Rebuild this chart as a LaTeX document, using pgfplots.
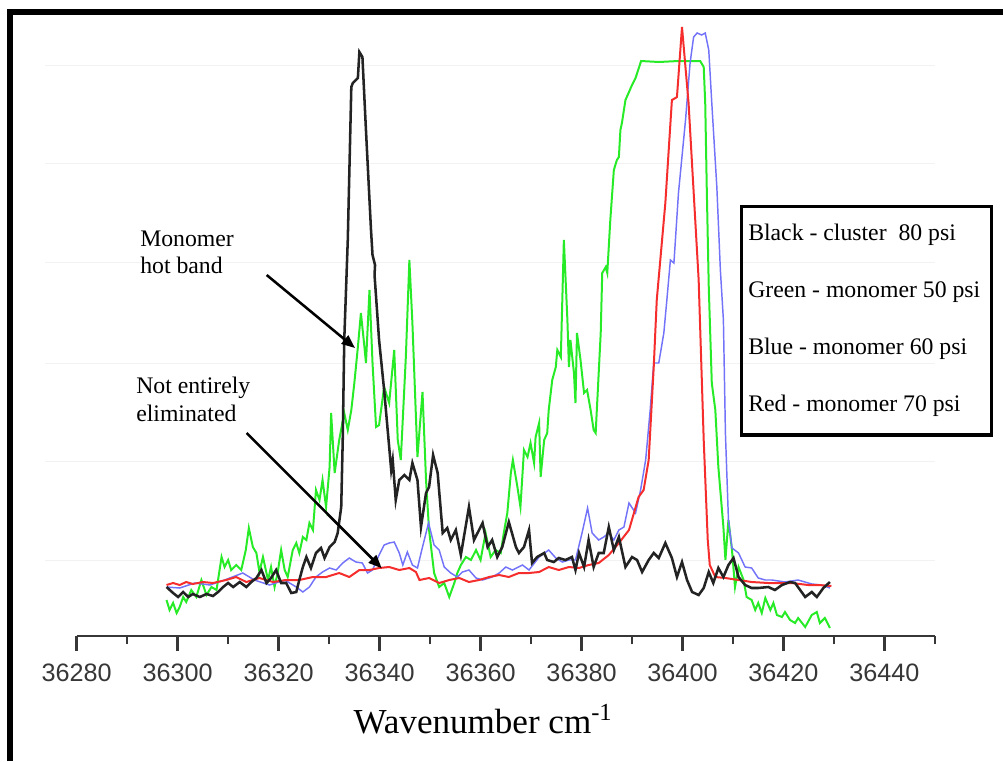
\documentclass[border=0pt]{standalone}
\usepackage{fontspec}
\setmainfont{Liberation Serif}
\newfontfamily\arial{Liberation Sans}
\usepackage{pgfplots}
\pgfplotsset{compat=1.18}
\usetikzlibrary{arrows.meta}
\definecolor{axcol}{RGB}{55,55,55}
\definecolor{cblack}{RGB}{35,35,35}
\definecolor{cgreen}{RGB}{40,235,40}
\definecolor{cblue}{RGB}{115,115,250}
\definecolor{cred}{RGB}{245,45,45}
\definecolor{gridc}{RGB}{242,242,242}
\newcommand{\txt}{\fontsize{17.8}{20}\selectfont}
\begin{document}
\begin{tikzpicture}
\path (0,0) rectangle (752.25pt,-570.75pt);
\begin{axis}[
  at={(57.5pt,-477pt)}, anchor=south west,
  scale only axis, width=643.7pt, height=465.75pt,
  xmin=36280, xmax=36450, ymin=-0.76, ymax=5.45,
  axis x line*=bottom, axis y line=none,
  x axis line style={draw=axcol, line width=2pt, -},
  xtick={36280,36300,...,36440},
  minor xtick={36290,36310,...,36450},
  scaled x ticks=false,
  tick align=outside,
  major tick length=11.25pt, minor tick length=6.25pt,
  xtick style={draw=axcol, line width=2pt},
  xticklabel style={font=\arial\fontsize{18.9}{20}\selectfont, text=axcol, yshift=-6.5pt,
    /pgf/number format/.cd, fixed, precision=0, 1000 sep={}},
  /pgf/number format/assume math mode=true,
  ytick=\empty,
  clip=false,
]
\pgfplotsinvokeforeach{0,0.99,1.97,2.98,3.97,4.95}{\draw[gridc, line width=0.75pt] (axis cs:36273.7,#1) -- (axis cs:36450,#1);}
% green 50 psi
\addplot[cgreen, line width=1.5pt] table {
36297.8 -0.40
36298.4 -0.50
36299.1 -0.43
36299.8 -0.53
36300.4 -0.47
36301.1 -0.37
36301.7 -0.42
36302.7 -0.30
36303.7 -0.37
36304.7 -0.20
36305.7 -0.35
36306.7 -0.27
36307.7 -0.30
36308.7 0.03
36309.3 -0.07
36310.0 0.00
36310.6 -0.10
36311.6 -0.05
36312.6 -0.10
36313.5 0.10
36314.1 0.32
36314.9 0.13
36315.6 0.07
36316.2 -0.12
36316.9 0.03
36317.9 -0.20
36318.5 -0.07
36319.2 -0.27
36319.8 -0.13
36320.5 0.10
36321.2 -0.10
36321.8 -0.17
36322.8 0.10
36323.5 0.17
36324.1 0.07
36324.8 0.23
36325.5 0.20
36326.1 0.37
36326.8 0.30
36327.4 0.70
36328.1 0.60
36328.7 0.80
36329.4 0.53
36330.1 0.93
36330.4 1.47
36331.1 0.87
36332.0 1.20
36333.0 1.47
36333.7 1.30
36334.4 1.50
36335.0 1.77
36335.7 2.13
36336.3 2.47
36337.0 2.13
36337.3 1.97
36338.0 2.70
36338.6 1.97
36339.3 1.33
36339.9 1.35
36340.9 1.73
36341.9 1.57
36342.9 2.10
36343.6 1.20
36344.2 1.00
36345.2 2.03
36345.9 3.00
36346.5 2.37
36347.5 1.03
36348.5 1.68
36349.2 0.80
36349.8 0.30
36350.8 -0.13
36351.8 -0.27
36352.8 -0.23
36353.8 -0.37
36354.8 -0.23
36355.4 -0.13
36356.1 -0.05
36357.1 0.03
36358.1 0.00
36359.1 0.10
36360.0 0.00
36361.0 0.27
36362.0 0.03
36363.0 0.10
36364.0 0.07
36364.6 0.27
36365.3 0.47
36366.0 0.87
36366.4 1.00
36367.3 0.73
36367.9 0.53
36368.6 1.10
36369.3 1.03
36369.9 1.17
36370.6 0.97
36370.9 1.23
36371.6 1.37
36371.9 0.83
36372.6 1.20
36373.2 1.27
36373.5 1.50
36374.2 1.80
36374.9 1.93
36375.2 2.10
36375.9 2.03
36376.5 3.20
36377.2 2.40
36377.5 1.93
36377.8 2.20
36378.5 1.87
36378.8 1.57
36379.1 2.27
36379.8 2.00
36380.5 1.67
36381.1 1.70
36381.8 1.50
36382.4 1.30
36382.8 1.27
36383.3 1.77
36383.8 2.27
36384.1 2.87
36384.8 2.93
36385.1 2.87
36385.7 3.40
36386.4 3.90
36387.0 4.00
36387.4 4.03
36387.7 4.30
36388.0 4.37
36388.7 4.60
36389.4 4.68
36390.0 4.75
36390.7 4.82
36391.8 4.99
36395.3 4.98
36399.2 4.99
36403.5 4.99
36404.2 4.93
36404.5 4.57
36404.8 3.73
36405.2 2.73
36405.8 1.77
36406.5 1.50
36407.1 0.93
36408.1 0.33
36408.5 0.00
36409.1 0.40
36409.8 0.10
36410.4 -0.27
36411.1 -0.07
36412.1 -0.20
36412.7 -0.37
36413.7 -0.40
36414.4 -0.50
36415.0 -0.43
36415.7 -0.53
36416.4 -0.38
36417.4 -0.50
36418.0 -0.43
36418.7 -0.55
36419.7 -0.57
36420.3 -0.52
36421.3 -0.60
36422.3 -0.63
36422.9 -0.58
36424.3 -0.67
36425.6 -0.55
36426.6 -0.52
36427.2 -0.63
36428.2 -0.58
36429.2 -0.68
};
% blue 60 psi
\addplot[cblue, line width=1.1pt] table {
36297.8 -0.27
36300.4 -0.28
36303.4 -0.23
36306.4 -0.25
36309.3 -0.20
36312.9 -0.13
36315.2 -0.20
36318.2 -0.25
36321.2 -0.20
36323.5 -0.27
36324.8 -0.32
36326.1 -0.27
36327.4 -0.17
36328.7 -0.12
36330.1 -0.08
36331.4 -0.10
36332.7 -0.03
36334.0 0.02
36335.3 -0.02
36336.6 -0.03
36337.6 -0.13
36338.6 -0.10
36339.9 0.05
36340.9 0.15
36341.9 0.17
36342.9 0.18
36343.9 0.07
36344.6 -0.05
36345.5 0.08
36346.5 -0.05
36347.5 -0.08
36348.5 0.13
36349.7 0.37
36350.8 0.15
36351.8 0.10
36352.8 -0.07
36354.1 -0.13
36355.4 -0.17
36356.4 -0.12
36357.7 -0.10
36359.1 -0.18
36360.4 -0.20
36362.3 -0.17
36363.7 -0.13
36365.0 -0.07
36366.3 -0.10
36368.3 -0.05
36369.6 -0.10
36371.6 0.03
36373.5 0.10
36374.9 0.02
36376.2 -0.02
36377.5 0.00
36378.8 0.00
36380.1 0.27
36381.2 0.52
36382.1 0.27
36383.4 0.20
36384.4 0.23
36385.4 0.27
36386.4 0.20
36387.4 0.30
36388.4 0.33
36389.4 0.57
36390.7 0.47
36391.7 0.70
36392.7 1.00
36393.6 1.50
36394.3 1.97
36395.3 1.97
36396.3 2.27
36396.9 2.60
36397.6 3.00
36398.3 2.97
36399.2 3.67
36400.6 4.40
36401.5 4.97
36402.2 5.23
36402.9 5.27
36403.8 5.25
36404.5 5.27
36405.2 5.10
36405.8 4.57
36406.8 3.73
36407.5 2.90
36408.1 2.40
36408.5 1.27
36409.1 0.40
36409.8 0.12
36411.1 0.07
36412.4 -0.07
36413.7 -0.08
36415.0 -0.18
36416.4 -0.20
36417.7 -0.20
36420.3 -0.22
36422.9 -0.20
36425.6 -0.24
36427.6 -0.25
36429.2 -0.28
};
% red 70 psi
\addplot[cred, line width=1.5pt] table {
36297.8 -0.25
36299.1 -0.23
36300.4 -0.25
36301.7 -0.22
36303.0 -0.24
36305.0 -0.22
36307.0 -0.23
36309.6 -0.20
36311.6 -0.17
36313.6 -0.22
36316.2 -0.18
36318.9 -0.22
36321.5 -0.20
36324.1 -0.20
36326.8 -0.17
36329.4 -0.17
36332.0 -0.13
36334.0 -0.17
36336.0 -0.10
36338.0 -0.10
36339.9 -0.08
36341.9 -0.07
36343.9 -0.10
36345.9 -0.08
36347.2 -0.12
36347.9 -0.20
36349.8 -0.18
36351.8 -0.23
36353.8 -0.20
36355.8 -0.18
36357.7 -0.22
36359.7 -0.20
36361.7 -0.17
36363.7 -0.15
36365.6 -0.17
36367.6 -0.13
36369.6 -0.13
36371.6 -0.12
36373.5 -0.07
36375.5 -0.10
36377.5 -0.07
36379.5 -0.08
36381.4 -0.05
36383.4 -0.03
36385.4 0.05
36387.4 0.17
36389.4 0.30
36391.3 0.63
36392.3 0.70
36393.3 1.00
36394.3 1.93
36394.9 2.60
36396.6 3.57
36397.9 4.60
36398.6 4.62
36398.9 4.63
36399.9 5.33
36401.2 4.57
36403.2 2.80
36404.2 1.20
36405.0 0.20
36405.4 -0.05
36406.5 -0.17
36408.5 -0.18
36411.1 -0.20
36413.7 -0.22
36417.0 -0.23
36421.6 -0.23
36424.9 -0.25
36426.9 -0.25
36429.5 -0.26
};
% black cluster 80 psi
\addplot[cblack, line width=1.9pt] table {
36297.8 -0.27
36299.1 -0.33
36300.1 -0.37
36301.1 -0.32
36302.1 -0.37
36303.0 -0.34
36304.4 -0.37
36305.7 -0.34
36307.0 -0.36
36308.0 -0.32
36309.0 -0.27
36310.0 -0.23
36311.0 -0.27
36312.3 -0.22
36313.6 -0.27
36314.6 -0.22
36315.6 -0.18
36316.6 -0.10
36317.6 -0.23
36318.5 -0.18
36319.5 -0.10
36320.5 -0.23
36321.5 -0.23
36322.5 -0.33
36323.5 -0.32
36324.1 -0.20
36324.8 -0.07
36325.5 0.03
36326.4 -0.08
36327.4 0.07
36328.4 0.12
36329.1 0.02
36330.1 0.13
36331.1 0.18
36331.7 0.27
36332.4 0.53
36332.7 1.20
36333.0 2.20
36333.7 3.20
36334.4 4.73
36334.7 4.77
36335.7 4.82
36336.0 5.08
36336.6 5.03
36337.3 4.30
36338.3 3.30
36338.6 3.05
36339.1 2.95
36339.0 2.85
36339.9 2.20
36340.9 1.70
36341.9 1.13
36342.3 0.90
36342.6 1.00
36343.2 0.60
36343.9 0.80
36344.9 0.85
36345.9 0.80
36346.5 0.97
36347.5 0.80
36348.2 0.33
36349.2 0.67
36349.8 0.73
36350.6 1.05
36351.5 0.87
36352.5 0.27
36353.4 0.32
36354.1 0.20
36355.1 0.30
36356.1 0.05
36357.7 0.53
36358.7 0.20
36360.4 0.37
36361.4 0.13
36362.3 0.20
36363.3 0.03
36364.3 0.13
36365.6 0.38
36367.0 0.13
36367.6 0.07
36368.6 0.13
36369.6 0.30
36370.2 -0.03
36371.2 0.03
36372.6 0.07
36373.2 0.00
36374.5 -0.02
36375.5 0.02
36376.8 0.00
36378.1 0.03
36378.8 -0.10
36379.5 0.07
36380.5 -0.07
36381.4 0.20
36382.4 -0.07
36383.4 0.07
36384.4 0.07
36385.4 0.33
36386.4 0.10
36387.4 0.23
36388.7 -0.07
36390.0 0.03
36391.0 0.00
36392.0 -0.12
36393.3 0.00
36394.3 0.07
36395.3 0.02
36396.6 0.17
36397.9 0.02
36398.9 -0.17
36399.9 -0.02
36400.9 -0.20
36401.9 -0.32
36403.2 -0.35
36404.2 -0.28
36405.2 -0.12
36406.1 -0.23
36407.1 -0.08
36408.1 -0.17
36409.1 -0.05
36410.1 0.02
36411.1 -0.17
36412.4 -0.25
36413.7 -0.28
36415.0 -0.28
36417.0 -0.27
36418.3 -0.30
36419.7 -0.25
36421.3 -0.22
36422.3 -0.23
36424.3 -0.37
36425.6 -0.32
36426.6 -0.37
36427.9 -0.28
36429.2 -0.22
};
\end{axis}
% outer frame
\draw[line width=4.5pt, black] (7.5pt,-570.75pt) -- (7.5pt,-9pt) -- (752.25pt,-9pt);
% legend box
\draw[line width=2.3pt, black] (556.3pt,-155pt) rectangle (743.8pt,-326.25pt);
\node[anchor=base west, inner sep=0pt] at (561pt,-180pt) {\txt Black - cluster\ \ 80 psi};
\node[anchor=base west, inner sep=0pt] at (561pt,-222.75pt) {\txt Green - monomer 50 psi};
\node[anchor=base west, inner sep=0pt] at (561pt,-265.5pt) {\txt Blue - monomer 60 psi};
\node[anchor=base west, inner sep=0pt] at (561pt,-308.25pt) {\txt Red - monomer 70 psi};
% annotations
\node[anchor=base west, inner sep=0pt] at (105pt,-184.5pt) {\txt Monomer};
\node[anchor=base west, inner sep=0pt] at (105pt,-204.75pt) {\txt hot band};
\node[anchor=base west, inner sep=0pt] at (102pt,-294.75pt) {\txt Not entirely};
\node[anchor=base west, inner sep=0pt] at (102pt,-316.3pt) {\txt eliminated};
\draw[line width=1.9pt, black, -{Triangle[length=10pt,width=8pt]}] (200pt,-206.25pt) -- (266.25pt,-261pt);
\draw[line width=1.9pt, black, -{Triangle[length=10pt,width=8pt]}] (185pt,-324.75pt) -- (286.3pt,-426.2pt);
% x label
\node[anchor=base, inner sep=0pt] at (362.25pt,-549.75pt) {\fontsize{26.3}{29}\selectfont Wavenumber cm\textsuperscript{-1}};
\pgfresetboundingbox
\useasboundingbox (0,0) rectangle (752.25pt,-570.75pt);
\end{tikzpicture}
\end{document}
